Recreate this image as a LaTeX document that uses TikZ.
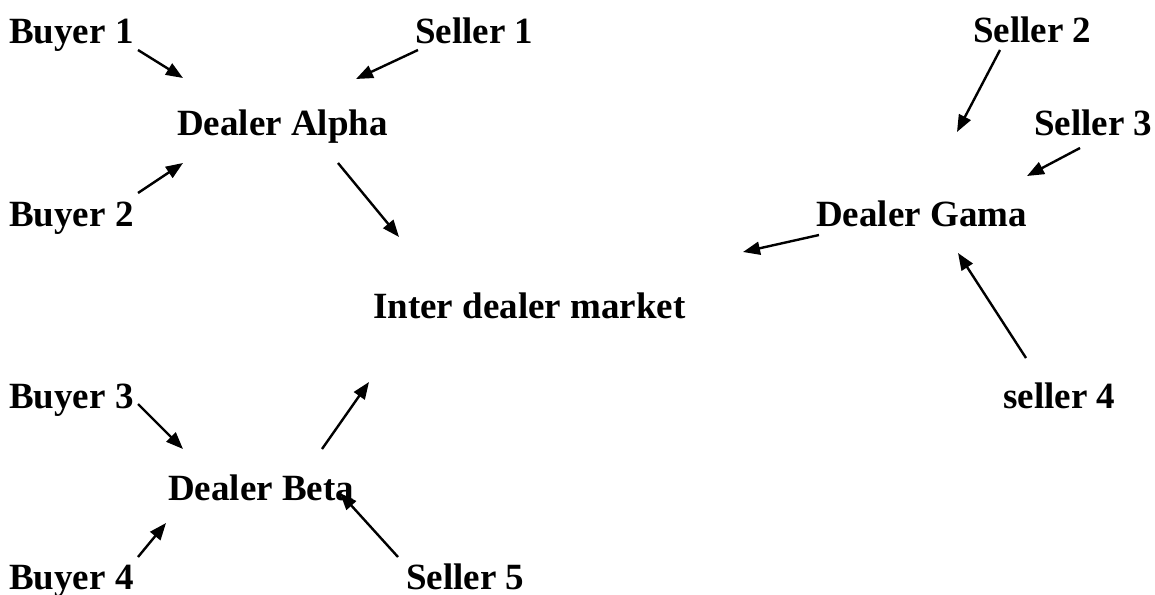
\documentclass[tikz,border=0pt]{standalone}
\usepackage{fontspec}
\setmainfont{Liberation Serif}
\usetikzlibrary{arrows.meta}
\tikzset{
  party/.style={inner sep=0pt, anchor=base west,
    font=\bfseries\fontsize{37}{44}\selectfont},
  flow/.style={line width=2.4pt, -{Triangle[length=17pt,width=13pt]}}
}
\begin{document}
\begin{tikzpicture}[x=1pt,y=-1pt]
\useasboundingbox (0,0) rectangle (1155,594);

% participants
\node[party] (buyer1)  at (9,44)    {Buyer 1};
\node[party] (seller1) at (415,44)  {Seller 1};
\node[party] (seller2) at (973,43)  {Seller 2};
\node[party] (alpha)   at (177,135) {Dealer Alpha};
\node[party] (seller3) at (1034,135){Seller 3};
\node[party] (buyer2)  at (9,226)   {Buyer 2};
\node[party] (gama)    at (816,226) {Dealer Gama};
\node[party] (inter)   at (373,318) {Inter dealer market};
\node[party] (buyer3)  at (9,408)   {Buyer 3};
\node[party] (seller4) at (1003,408){seller 4};
\node[party] (beta)    at (168,500) {Dealer Beta};
\node[party] (buyer4)  at (9,589)   {Buyer 4};
\node[party] (seller5) at (406,589) {Seller 5};

% arrow end points
\coordinate (b1-o) at (138,50);   \coordinate (alpha-b1) at (183,78);
\coordinate (s1-o) at (418,50);   \coordinate (alpha-s1) at (356,79);
\coordinate (b2-o) at (138,193);  \coordinate (alpha-b2) at (183,163);
\coordinate (alpha-o) at (338,163); \coordinate (inter-a) at (399,237);
\coordinate (s2-o) at (1000,50);  \coordinate (gama-s2) at (957,132);
\coordinate (s3-o) at (1080,148); \coordinate (gama-s3) at (1027,176);
\coordinate (gama-o) at (819,235); \coordinate (inter-g) at (743,252);
\coordinate (s4-o) at (1026,358); \coordinate (gama-s4) at (958,253);
\coordinate (b3-o) at (138,404);  \coordinate (beta-b3) at (183,449);
\coordinate (beta-o) at (322,449); \coordinate (inter-b) at (369,382);
\coordinate (b4-o) at (138,557);  \coordinate (beta-b4) at (166,523);
\coordinate (s5-o) at (398,557);  \coordinate (beta-s5) at (340,493);

% trades
\draw[flow] (b1-o) -- (alpha-b1);
\draw[flow] (s1-o) -- (alpha-s1);
\draw[flow] (b2-o) -- (alpha-b2);
\draw[flow] (alpha-o) -- (inter-a);
\draw[flow] (s2-o) -- (gama-s2);
\draw[flow] (s3-o) -- (gama-s3);
\draw[flow] (gama-o) -- (inter-g);
\draw[flow] (s4-o) -- (gama-s4);
\draw[flow] (b3-o) -- (beta-b3);
\draw[flow] (beta-o) -- (inter-b);
\draw[flow] (b4-o) -- (beta-b4);
\draw[flow] (s5-o) -- (beta-s5);
\end{tikzpicture}
\end{document}
